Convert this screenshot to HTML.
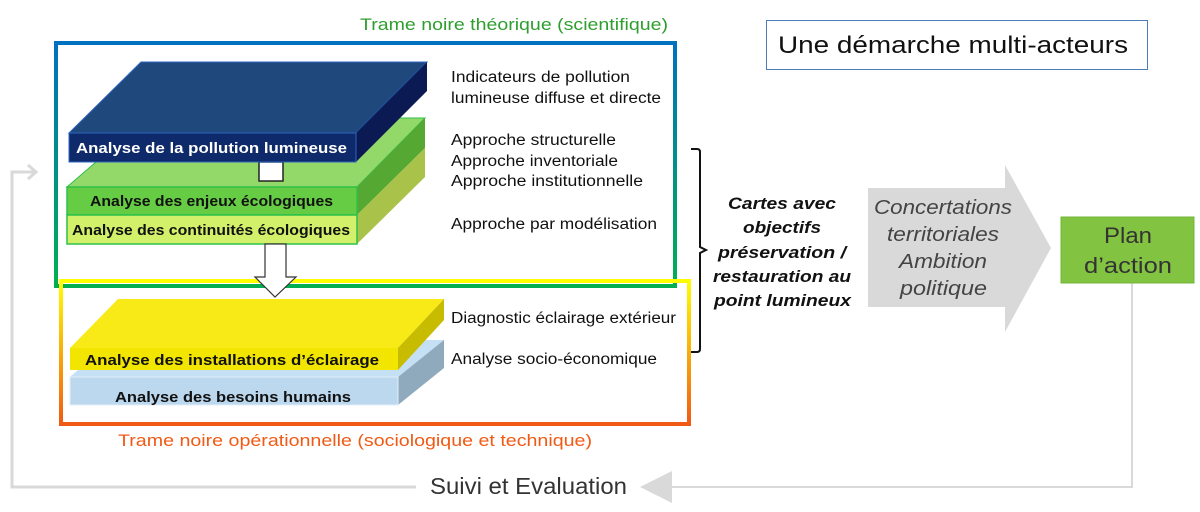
<!DOCTYPE html>
<html><head><meta charset="utf-8"><style>
html,body{margin:0;padding:0;background:#fff}
svg{display:block}
text{font-family:"Liberation Sans",sans-serif}
</style></head><body>
<svg width="1200" height="512" viewBox="0 0 1200 512" xmlns="http://www.w3.org/2000/svg">
<defs>
<linearGradient id="g1" x1="0" y1="0" x2="0" y2="1"><stop offset="0" stop-color="#0070c0"/><stop offset="1" stop-color="#00b050"/></linearGradient>
<linearGradient id="g2" x1="0" y1="0" x2="0" y2="1"><stop offset="0" stop-color="#ffff00"/><stop offset="1" stop-color="#f05a14"/></linearGradient>
</defs>
<!-- feedback loop -->
<polyline points="1132,283 1132,487 672,487" fill="none" stroke="#d9d9d9" stroke-width="2"/>
<polygon points="640,487 672,471 672,503" fill="#d9d9d9"/>
<polyline points="416,487 12,487 12,172 34,172" fill="none" stroke="#d9d9d9" stroke-width="3"/>
<polyline points="28,165 36,172 28,179" fill="none" stroke="#d9d9d9" stroke-width="3"/>
<text x="430" y="494" font-size="23" fill="#333" textLength="197" lengthAdjust="spacingAndGlyphs">Suivi et Evaluation</text>

<!-- frames -->
<text x="360" y="30" font-size="17" fill="#2e9e2e" textLength="308" lengthAdjust="spacingAndGlyphs">Trame noire théorique (scientifique)</text>
<rect x="56" y="43" width="619" height="243" fill="none" stroke="url(#g1)" stroke-width="4"/>
<rect x="61" y="281" width="628" height="143" fill="none" stroke="url(#g2)" stroke-width="4"/>
<text x="118" y="446" font-size="17" fill="#f05a14" textLength="474" lengthAdjust="spacingAndGlyphs">Trame noire opérationnelle (sociologique et technique)</text>

<!-- green slab -->
<polygon points="67,187 147,118 425,118 357,187" fill="#92d96a" stroke="#2ec04a" stroke-width="1"/>
<polygon points="357,187 425,118 425,148 357,215" fill="#55a832"/>
<polygon points="357,215 425,148 425,177 357,244" fill="#a9c34a"/>
<rect x="67" y="187" width="290" height="28" fill="#66cc44" stroke="#2ec04a" stroke-width="1.5"/>
<rect x="67" y="215" width="290" height="29" fill="#d2f06a" stroke="#2ec04a" stroke-width="1.5"/>
<text x="90" y="206" font-size="15" font-weight="bold" fill="#111" textLength="243" lengthAdjust="spacingAndGlyphs">Analyse des enjeux écologiques</text>
<text x="72" y="235" font-size="15" font-weight="bold" fill="#111" textLength="278" lengthAdjust="spacingAndGlyphs">Analyse des continuités écologiques</text>
<rect x="259" y="162" width="24" height="19" fill="#fff" stroke="#222" stroke-width="1.5"/>
<!-- dark blue slab -->
<polygon points="69,133 141,62 427,62 356,133" fill="#1f497d" stroke="#2e64c0" stroke-width="1"/>
<polygon points="356,133 427,62 427,91 356,162" fill="#0b1a52"/>
<rect x="69" y="133" width="287" height="29" fill="#0f2a6a" stroke="#2e64c0" stroke-width="1"/>
<text x="76" y="153" font-size="15" font-weight="bold" fill="#fff" textLength="271" lengthAdjust="spacingAndGlyphs">Analyse de la pollution lumineuse</text>
<polygon points="265,244 286,244 286,277 296,277 275,297 255,277 265,277" fill="#fff" stroke="#333" stroke-width="1.2"/>

<!-- blue light slab -->
<polygon points="70,377 112,340 444,340 398,377" fill="#c5e0f4"/>
<polygon points="398,377 444,340 444,368 398,405" fill="#8faabc"/>
<rect x="70" y="377" width="328" height="28" fill="#bcd8ee" stroke="#e0eef8" stroke-width="1"/>
<text x="115" y="402" font-size="15" font-weight="bold" fill="#111" textLength="236" lengthAdjust="spacingAndGlyphs">Analyse des besoins humains</text>
<!-- yellow slab -->
<polygon points="70,348 118,299 444,299 398,348" fill="#f7ea17"/>
<polygon points="398,348 444,299 444,320 398,370" fill="#c8bc00"/>
<rect x="70" y="348" width="328" height="22" fill="#f2e600"/>
<text x="85" y="365" font-size="15" font-weight="bold" fill="#111" textLength="294" lengthAdjust="spacingAndGlyphs">Analyse des installations d’éclairage</text>

<!-- right texts -->
<g font-size="15.5" fill="#111">
<text x="451" y="82" textLength="179" lengthAdjust="spacingAndGlyphs">Indicateurs de pollution</text>
<text x="451" y="103" textLength="210" lengthAdjust="spacingAndGlyphs">lumineuse diffuse et directe</text>
<text x="451" y="145" textLength="165" lengthAdjust="spacingAndGlyphs">Approche structurelle</text>
<text x="451" y="166" textLength="167" lengthAdjust="spacingAndGlyphs">Approche inventoriale</text>
<text x="451" y="186" textLength="192" lengthAdjust="spacingAndGlyphs">Approche institutionnelle</text>
<text x="451" y="229" textLength="206" lengthAdjust="spacingAndGlyphs">Approche par modélisation</text>
<text x="451" y="323" textLength="225" lengthAdjust="spacingAndGlyphs">Diagnostic éclairage extérieur</text>
<text x="451" y="364" textLength="206" lengthAdjust="spacingAndGlyphs">Analyse socio-économique</text>
</g>
<path d="M691,149 h6 q3,0 3,3 v95 l6,3 l-6,3 v96 q0,3 -3,3 h-6" fill="none" stroke="#111" stroke-width="2"/>
<g font-size="17" font-weight="bold" font-style="italic" fill="#111">
<text x="728" y="209" textLength="108" lengthAdjust="spacingAndGlyphs">Cartes avec</text>
<text x="743" y="233" textLength="78" lengthAdjust="spacingAndGlyphs">objectifs</text>
<text x="718" y="258" textLength="128" lengthAdjust="spacingAndGlyphs">préservation /</text>
<text x="713" y="282" textLength="138" lengthAdjust="spacingAndGlyphs">restauration au</text>
<text x="714" y="306" textLength="137" lengthAdjust="spacingAndGlyphs">point lumineux</text>
</g>
<polygon points="868,188 1005,188 1005,165 1051,248 1005,332 1005,307 868,307" fill="#d9d9d9"/>
<g font-size="20" font-style="italic" fill="#444">
<text x="874" y="214" textLength="138" lengthAdjust="spacingAndGlyphs">Concertations</text>
<text x="887" y="241" textLength="112" lengthAdjust="spacingAndGlyphs">territoriales</text>
<text x="899" y="268" textLength="88" lengthAdjust="spacingAndGlyphs">Ambition</text>
<text x="900" y="295" textLength="87" lengthAdjust="spacingAndGlyphs">politique</text>
</g>
<rect x="1061" y="217" width="133" height="66" fill="#82c341" stroke="#72b63a" stroke-width="1"/>
<text x="1104" y="243" font-size="22" fill="#333" textLength="48" lengthAdjust="spacingAndGlyphs">Plan</text>
<text x="1084" y="273" font-size="22" fill="#333" textLength="88" lengthAdjust="spacingAndGlyphs">d’action</text>
<rect x="766.5" y="20.5" width="381" height="49" fill="#fff" stroke="#4a7ebb" stroke-width="1"/>
<text x="778" y="53" font-size="24" fill="#111" textLength="350" lengthAdjust="spacingAndGlyphs">Une démarche multi-acteurs</text>
</svg>
</body></html>
